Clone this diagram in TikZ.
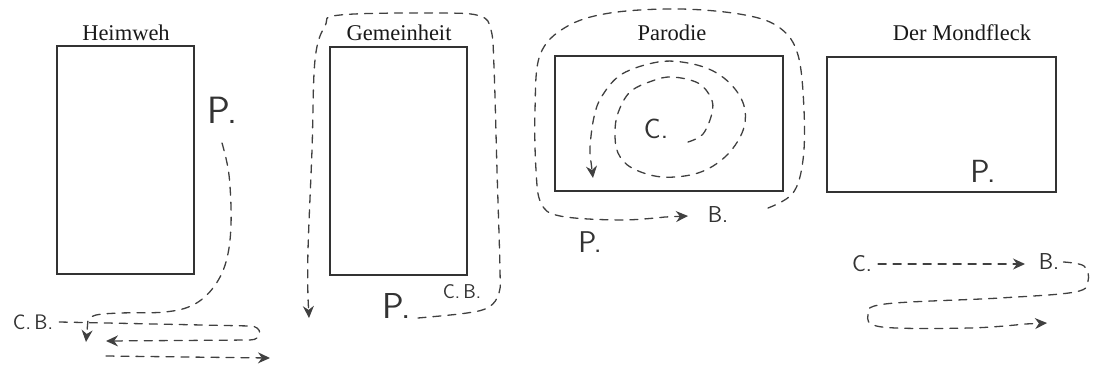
\documentclass[tikz,border=0pt]{standalone}
\usepackage{fontspec}
\setmainfont{Liberation Serif}
\usetikzlibrary{arrows.meta}
\tikzset{
  box/.style={draw=black!80, line width=1.2pt, inner sep=0pt, fill=none},
  ttl/.style={font=\fontsize{22.5}{26}\selectfont, text=black!90, inner sep=0pt},
  hand/.style={font=\sffamily\fontsize{#1}{#1}\selectfont, text=black!80, inner sep=0pt},
  hand/.default=21,
  dpath/.style={draw=black!75, line width=1.3pt, dash pattern=on 8pt off 7pt, line cap=round},
  arr/.style={-{Stealth[length=12pt,width=11pt]}},
}
\begin{document}
\begin{tikzpicture}[x=1pt,y=-1pt]
\useasboundingbox (0,0) rectangle (1094,365);
% ---------- Heimweh ----------
\node[box, minimum width=137pt, minimum height=228pt] (r1) at (125.5,160) {};
\node[ttl] (t1) at (126,33) {Heimweh};
\node[hand=38] (p1) at (222,110) {P.};
\node[hand=21] (cb1) at (33,322) {C.\,B.};
\coordinate (e1) at (86,342);
\coordinate (e2) at (106,341);
\coordinate (s3) at (106,356);
\coordinate (e3) at (270,358);
\draw[dpath,arr] plot[smooth, tension=0.6] coordinates {(222,143) (229,175) (231,225) (226,262) (213,288) (193,305) (165,312) (120,313) (96,315) (88,320)} -- (e1);
\draw[dpath,arr] ([xshift=6pt]cb1.east) -- (250,326) .. controls (263,326) and (263,340) .. (250,340) -- (e2);
\draw[dpath,arr] (s3) -- (e3);
% ---------- Gemeinheit ----------
\node[box, minimum width=137pt, minimum height=228pt] (r2) at (398.5,161) {};
\node[ttl] (t2) at (399,33) {Gemeinheit};
\node[hand=36] (p2) at (397,306) {P.};
\node[hand=20] (cb2) at (462,292) {C.\,B.};
\coordinate (e4) at (309,318);
\draw[dpath,arr] plot[smooth, tension=0.6] coordinates {(418,318) (467,313) (489,307) (499,293) (500,270) (497,170) (494,67) (491,30) (480,16) (440,13) (340,15) (325,26) (315,60) (312,150) (308,250) (308,298)} -- (e4);
% ---------- Parodie ----------
\node[box, minimum width=228pt, minimum height=135pt] (r3) at (669,123.5) {};
\node[ttl] (t3) at (672,33) {Parodie};
\node[hand=28] (c3) at (656,129) {C.};
\node[hand=23] (b3) at (718,215) {B.};
\node[hand=30] (p3) at (590,242) {P.};
\coordinate (e5) at (593,178);
\coordinate (e6) at (688,216);
\draw[dpath,arr] plot[smooth, tension=0.6] coordinates {(688,142) (703,134) (712,113) (711,98) (698,83) (672,77) (652,81) (630,92) (618,113) (615,133) (618,153) (632,168) (662,177) (698,173) (725,157) (742,133) (745,110) (735,89) (715,72) (688,63) (658,62) (622,74) (602,96) (594,117) (590,147) (591,162)} -- (e5);
\draw[dpath,arr] plot[smooth, tension=0.6] coordinates {(768,208) (793,193) (803,160) (804,110) (798,55) (780,28) (745,15) (680,9) (610,13) (566,27) (540,55) (535,110) (536,170) (541,203) (560,216) (620,220) (665,217)} -- (e6);
% ---------- Der Mondfleck ----------
\node[box, minimum width=229pt, minimum height=135pt] (r4) at (941.5,124.5) {};
\node[ttl] (t4) at (962,33) {Der Mondfleck};
\node[hand=32] (p4) at (983,171) {P.};
\node[hand=23] (c4) at (862,264) {C.};
\node[hand=23] (b4) at (1049,262) {B.};
\coordinate (e7) at (1025,264);
\coordinate (e8) at (1047,323);
\draw[dpath,arr] ([xshift=6pt]c4.east) -- (e7);
\draw[dpath,arr] plot[smooth, tension=0.6] coordinates {([xshift=4pt]b4.east) (1084,266) (1088,281) (1075,292) (1000,298) (885,304) (868,315) (882,327) (970,328) (1025,324)} -- (e8);
\end{tikzpicture}
\end{document}
